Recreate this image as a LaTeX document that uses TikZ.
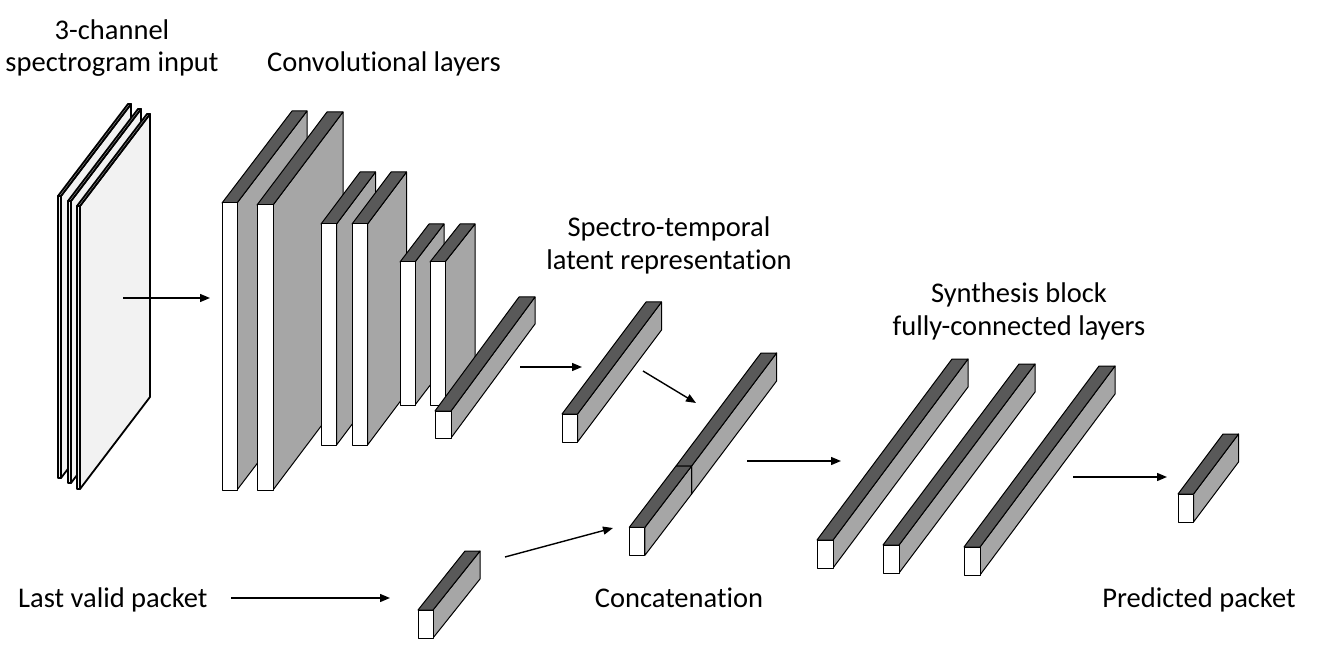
\documentclass[tikz,border=0pt]{standalone}
\usepackage{fontspec}
\setmainfont{Carlito}[Ligatures=NoCommon]
\usetikzlibrary{arrows.meta}
\definecolor{topc}{HTML}{595959}
\definecolor{sidec}{HTML}{A6A6A6}
\definecolor{planec}{HTML}{F2F2F2}
\tikzset{
  boxfront/.style={draw=black, fill=white, line width=1pt, line join=round},
  boxtop/.style={draw=black, fill=topc, line width=1pt, line join=round},
  boxside/.style={draw=black, fill=sidec, line width=1pt, line join=round},
  lbl/.style={font=\fontsize{28.5}{34}\selectfont, inner sep=0pt, text=black},
  arr/.style={line width=1.4pt, -{Triangle[length=10pt,width=8pt]}},
}
% name, x, y (front top-left), width, height, dx, dy (depth)
\newcommand{\mkbox}[7]{%
  \coordinate (#1) at (#2,#3);
  \filldraw[boxside] ({#2+#4},#3) -- ++(#6,#7) -- ++(0,#5) -- ({#2+#4},{#3+#5}) -- cycle;
  \filldraw[boxtop] (#2,#3) -- ++(#6,#7) -- ++(#4,0) -- ({#2+#4},#3) -- cycle;
  \filldraw[boxfront] (#2,#3) rectangle ++(#4,#5);
}
\begin{document}
\begin{tikzpicture}[x=1pt,y=-1pt]
\useasboundingbox (0,0) rectangle (1318,663);

% input planes
\begin{scope}[boxfront/.style={draw=black, fill=planec, line width=1.8pt, line join=round},
              boxtop/.style={draw=black, fill=planec, line width=1.8pt, line join=round},
              boxside/.style={draw=black, fill=planec, line width=1.8pt, line join=round}]
  \mkbox{p1}{58}{196}{3}{282}{70}{-92}
  \mkbox{p2}{68}{201}{3}{282}{70}{-92}
  \mkbox{p3}{77}{206}{3}{283}{70}{-92}
\end{scope}

% convolutional layers
\mkbox{c1}{222}{203}{15}{287}{70}{-92}
\mkbox{c2}{257}{205}{16}{285}{70}{-93}
\mkbox{c3}{321}{224}{15.5}{221}{39}{-52}
\mkbox{c4}{352}{224}{15.5}{221}{39}{-52}
\mkbox{c5}{400}{262}{15}{143}{29}{-38}
\mkbox{c6}{430}{262}{15}{143}{30}{-38}
\mkbox{c7}{435}{411}{16}{27}{84}{-114}

% latent
\mkbox{lat}{562}{414}{15.5}{28}{84}{-112}

% concatenation
\mkbox{catb}{676}{466}{15.6}{28}{85}{-113}
\mkbox{catf}{629.3}{527.3}{15.6}{28}{46.7}{-61.3}

% last valid packet
\mkbox{lvp}{418}{610}{15}{28}{47}{-59}

% synthesis
\mkbox{s1}{817}{540}{16}{28}{135}{-181}
\mkbox{s2}{883}{545}{16}{28}{136}{-181}
\mkbox{s3}{964}{547}{16}{28}{135}{-181}

% predicted
\mkbox{pred}{1178}{494}{15.5}{28}{45}{-60}

% arrows
\coordinate (a1s) at (123,298); \coordinate (a1e) at (210,298);
\coordinate (a2s) at (520,367); \coordinate (a2e) at (582,367);
\coordinate (a3s) at (643,371); \coordinate (a3e) at (696,403);
\coordinate (a4s) at (505,557); \coordinate (a4e) at (613,528);
\coordinate (a5s) at (747,461); \coordinate (a5e) at (841,461);
\coordinate (a6s) at (1073,477); \coordinate (a6e) at (1167,477);
\coordinate (a7s) at (231,598); \coordinate (a7e) at (390,598);
\draw[arr] (a1s) -- (a1e);
\draw[arr] (a2s) -- (a2e);
\draw[arr] (a3s) -- (a3e);
\draw[arr] (a4s) -- (a4e);
\draw[arr] (a5s) -- (a5e);
\draw[arr] (a6s) -- (a6e);
\draw[arr] (a7s) -- (a7e);

% labels
\node[lbl, anchor=base] (t1a) at (112,40) {3-channel};
\node[lbl, anchor=base] (t1b) at (112,72) {spectrogram input};
\node[lbl, anchor=base west] (t2) at (267,72) {Convolutional layers};
\node[lbl, anchor=base] (t3a) at (669,237) {Spectro-temporal};
\node[lbl, anchor=base] (t3b) at (669,270) {latent representation};
\node[lbl, anchor=base] (t4a) at (1019,302) {Synthesis block};
\node[lbl, anchor=base] (t4b) at (1019,335) {fully-connected layers};
\node[lbl, anchor=base west] (t5) at (18,607) {Last valid packet};
\node[lbl, anchor=base] (t6) at (679,607) {Concatenation};
\node[lbl, anchor=base] (t7) at (1199,607) {Predicted packet};
\end{tikzpicture}
\end{document}
